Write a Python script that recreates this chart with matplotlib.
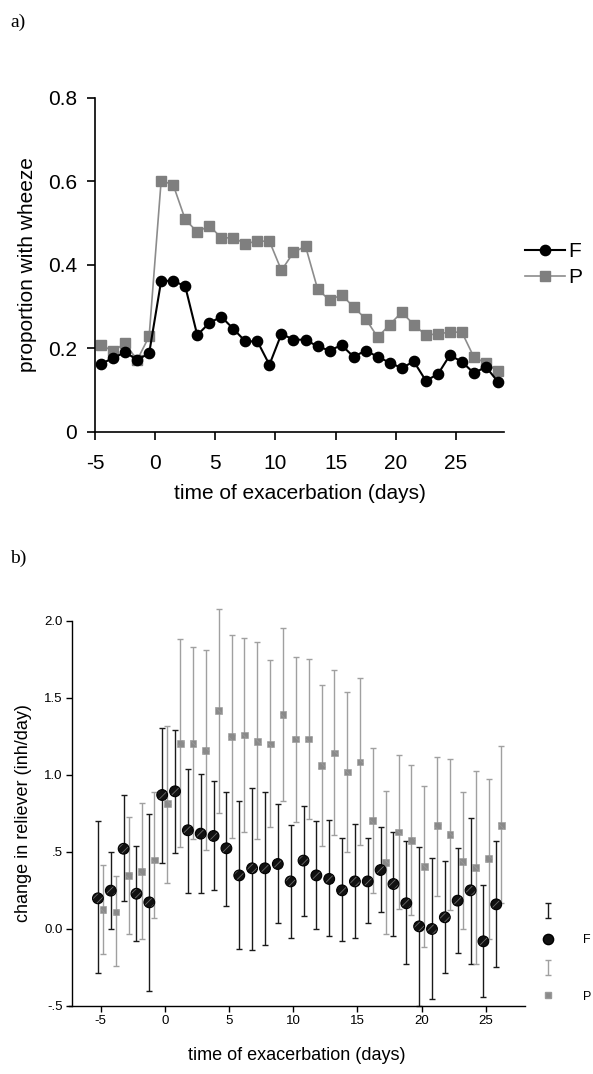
import numpy as np
import matplotlib
matplotlib.use("Agg")
from matplotlib import pyplot as plt
from matplotlib.lines import Line2D
from matplotlib.container import ErrorbarContainer
from matplotlib.legend_handler import HandlerErrorbar

plt.rcParams['font.family'] = ['Liberation Sans', 'DejaVu Sans']
plt.rcParams['axes.unicode_minus'] = False
plt.rcParams['hatch.linewidth'] = 0.6

########################################################
# a) proportion with wheeze, days -5..28
days_a = np.arange(-5, 29)
wheeze_F = [0.163, 0.177, 0.191, 0.173, 0.188, 0.362, 0.362, 0.349, 0.232, 0.261,
            0.276, 0.247, 0.217, 0.217, 0.161, 0.235, 0.221, 0.221, 0.205, 0.195,
            0.208, 0.180, 0.195, 0.180, 0.166, 0.153, 0.169, 0.123, 0.138, 0.184,
            0.168, 0.141, 0.156, 0.120]
wheeze_P = [0.209, 0.193, 0.213, 0.172, 0.229, 0.602, 0.592, 0.509, 0.479, 0.494,
            0.465, 0.465, 0.451, 0.457, 0.457, 0.387, 0.430, 0.445, 0.343, 0.315,
            0.329, 0.299, 0.271, 0.227, 0.257, 0.287, 0.257, 0.232, 0.235, 0.239,
            0.239, 0.179, 0.165, 0.145]

# b) change in reliever, days -5..26 (mean, lower, upper)
days_b = np.arange(-5, 27)
rel_F = [0.197, 0.247, 0.519, 0.227, 0.171, 0.868, 0.892, 0.639, 0.617, 0.602,
         0.522, 0.346, 0.392, 0.392, 0.420, 0.307, 0.442, 0.346, 0.323, 0.249,
         0.307, 0.307, 0.381, 0.290, 0.165, 0.015, -0.002, 0.074, 0.182, 0.249,
         -0.082, 0.158]
rel_F_lo = [-0.290, 0.0, 0.182, -0.082, -0.407, 0.429, 0.494, 0.232, 0.232, 0.249,
            0.149, -0.134, -0.141, -0.108, 0.035, -0.058, 0.084, 0.0, -0.050, -0.082,
            -0.058, 0.035, 0.108, -0.050, -0.232, -0.500, -0.455, -0.290, -0.158, -0.232,
            -0.446, -0.249]
rel_F_hi = [0.697, 0.496, 0.868, 0.537, 0.745, 1.301, 1.288, 1.035, 1.002, 0.959,
            0.885, 0.827, 0.911, 0.885, 0.812, 0.671, 0.794, 0.697, 0.706, 0.589,
            0.677, 0.589, 0.660, 0.628, 0.571, 0.528, 0.459, 0.437, 0.522, 0.719,
            0.281, 0.571]
rel_P = [0.123, 0.108, 0.346, 0.370, 0.446, 0.812, 1.201, 1.201, 1.158, 1.416,
         1.249, 1.258, 1.214, 1.199, 1.390, 1.232, 1.232, 1.058, 1.141, 1.017,
         1.082, 0.701, 0.431, 0.628, 0.571, 0.405, 0.669, 0.610, 0.437, 0.396,
         0.455, 0.669]
rel_P_lo = [-0.167, -0.240, -0.035, -0.069, 0.067, 0.297, 0.528, 0.580, 0.513, 0.753,
            0.587, 0.628, 0.580, 0.660, 0.827, 0.695, 0.710, 0.535, 0.610, 0.496,
            0.543, 0.232, -0.035, 0.130, 0.091, -0.117, 0.214, 0.123, 0.0, -0.232,
            -0.067, 0.170]
rel_P_hi = [0.411, 0.342, 0.727, 0.818, 0.885, 1.314, 1.879, 1.827, 1.810, 2.076,
            1.905, 1.885, 1.859, 1.742, 1.950, 1.762, 1.753, 1.580, 1.677, 1.539,
            1.630, 1.175, 0.892, 1.126, 1.061, 0.926, 1.115, 1.100, 0.885, 1.024,
            0.974, 1.186]

########################################################
fig = plt.figure(figsize=(5.93, 10.74), dpi=100)

# ---- a)
ax1 = fig.add_axes([0.1602, 0.5978, 0.6897, 0.311])
ax1.plot(days_a + 0.5, wheeze_P, color='#8c8c8c', lw=1.2, marker='s', ms=7.6,
         mfc='#7f7f7f', mec='#7f7f7f', label='P')
ax1.plot(days_a + 0.5, wheeze_F, color='black', lw=1.5, marker='o', ms=7.4,
         label='F')
ax1.set_xlim(-5, 29)
ax1.set_ylim(0, 0.8)
ax1.set_xticks([-5, 0, 5, 10, 15, 20, 25])
ax1.set_xticklabels(['-5', '0', '5', '10', '15', '20', '25'])
ax1.set_yticks([0, 0.2, 0.4, 0.6, 0.8])
ax1.set_yticklabels(['0', '0.2', '0.4', '0.6', '0.8'])
ax1.spines['top'].set_visible(False)
ax1.spines['right'].set_visible(False)
for s in ['left', 'bottom']:
    ax1.spines[s].set_linewidth(1.2)
ax1.tick_params(axis='x', length=6, width=1.2, labelsize=15, pad=10)
ax1.tick_params(axis='y', length=6, width=1.2, labelsize=15, pad=7)
ax1.set_xlabel('time of exacerbation (days)', fontsize=15, labelpad=8)
ax1.set_ylabel('proportion with wheeze', fontsize=15, labelpad=8)
h, l = ax1.get_legend_handles_labels()
ax1.legend(h[::-1], l[::-1], loc='upper left', bbox_to_anchor=(0.8853, 0.7745),
           bbox_transform=fig.transFigure, frameon=False, fontsize=15,
           borderpad=0, borderaxespad=0, handlelength=1.9, handletextpad=0.2,
           labelspacing=0.35)

# ---- b)
ax2 = fig.add_axes([0.1164, 0.0636, 0.7681, 0.3585])
cF = np.array(rel_F)
cP = np.array(rel_P)
ebF = ax2.errorbar(days_b - 0.2, cF, yerr=[cF - np.array(rel_F_lo), np.array(rel_F_hi) - cF],
                   fmt='none', ecolor='#1a1a1a', elinewidth=1.0, capsize=2.3, capthick=1.0)
ebP = ax2.errorbar(days_b + 0.2, cP, yerr=[cP - np.array(rel_P_lo), np.array(rel_P_hi) - cP],
                   fmt='none', ecolor='#a0a0a0', elinewidth=1.0, capsize=2.3, capthick=1.0)
for eb in (ebF, ebP):
    for art in list(eb.lines[1]) + list(eb.lines[2]):
        art.set_clip_on(False)
ax2.scatter(days_b + 0.2, cP, s=24, marker='s', facecolor='#8a8a8a',
            edgecolor='#9a9a9a', linewidth=0.4, hatch='\\\\\\\\', zorder=3)
ax2.scatter(days_b - 0.2, cF, s=60, marker='o', facecolor='#111111',
            edgecolor='#6a6a6a', linewidth=0, hatch='////', zorder=4)
ax2.scatter(days_b - 0.2, cF, s=60, marker='o', facecolor='none',
            edgecolor='black', linewidth=0.8, zorder=5)
ax2.set_xlim(-7.45, 28.0)
ax2.set_ylim(-0.5, 2.0)
ax2.spines['left'].set_position(('data', -7.2))
ax2.spines['top'].set_visible(False)
ax2.spines['right'].set_visible(False)
for s in ['left', 'bottom']:
    ax2.spines[s].set_linewidth(1.0)
ax2.set_xticks([-5, 0, 5, 10, 15, 20, 25])
ax2.set_xticklabels(['-5', '0', '5', '10', '15', '20', '25'])
ax2.set_yticks([-0.5, 0, 0.5, 1.0, 1.5, 2.0])
ax2.set_yticklabels(['-.5', '0.0', '.5', '1.0', '1.5', '2.0'])
ax2.tick_params(length=4, width=1.0, labelsize=9.5, pad=3)
ax2.set_xlabel('time of exacerbation (days)', fontsize=13, labelpad=14)
ax2.set_ylabel('change in reliever (inh/day)', fontsize=13, labelpad=9)

mF = Line2D([], [], ls='none', marker='o', ms=7.4, mfc='#111111', mec='black')
mP = Line2D([], [], ls='none', marker='s', ms=5, mfc='#8a8a8a', mec='#9a9a9a')
ax2.legend([ebF, mF, ebP, mP], ['', 'F', '', 'P'], loc='upper left',
           bbox_to_anchor=(0.9073, 0.1564), bbox_transform=fig.transFigure,
           frameon=False, fontsize=9, borderpad=0, borderaxespad=0,
           handlelength=1.6, handletextpad=2.0, labelspacing=1.3,
           handler_map={ErrorbarContainer: HandlerErrorbar(xerr_size=0.6)})

fig.text(0.017, 0.979, 'a)', family='Liberation Serif', fontsize=14, va='center')
fig.text(0.017, 0.480, 'b)', family='Liberation Serif', fontsize=14, va='center')

plt.savefig('out.png', dpi=100)
